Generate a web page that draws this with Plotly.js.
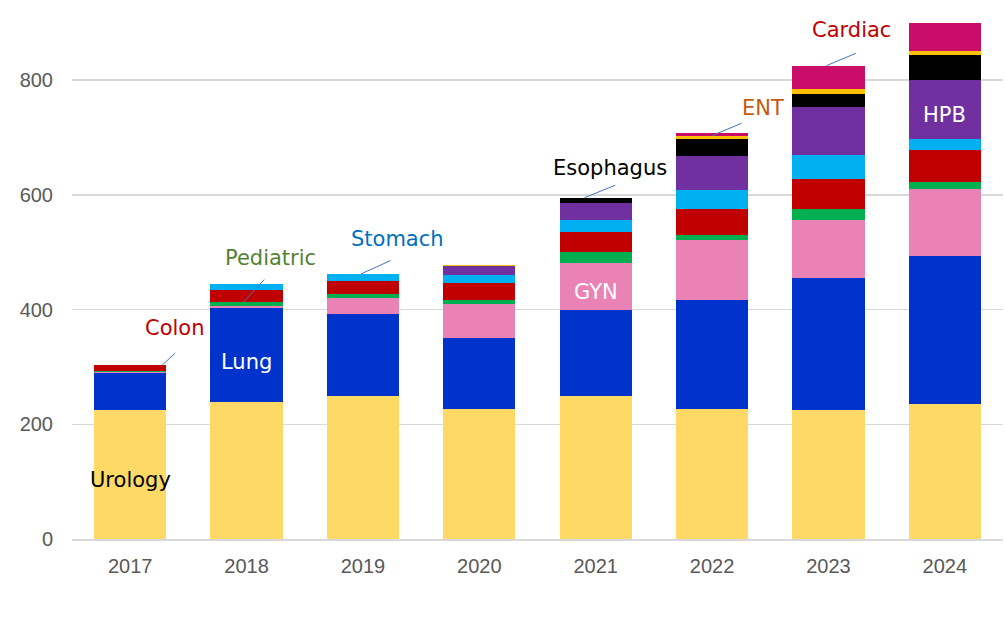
<!DOCTYPE html>
<html>
<head>
<meta charset="utf-8">
<script src="https://cdn.plot.ly/plotly-3.0.1.min.js"></script>
<style>html,body{margin:0;padding:0;background:#fff;}#chart{width:1006px;height:620px;}</style>
</head>
<body>
<div id="chart"></div>
<script>
const years = ['2017','2018','2019','2020','2021','2022','2023','2024'];
const urology   = [225, 239, 249, 227, 249, 227, 225, 235];
const lung      = [64, 164, 143, 124, 150, 189, 230, 258];
const gyn       = [2, 3, 28, 59, 82, 105, 101, 117];
const pediatric = [2, 7, 7, 7, 19, 9, 19, 12];
const colon     = [10, 21, 23, 30, 35, 45, 52, 56];
const stomach   = [0, 10, 12, 14, 21, 33, 42, 19];
const hpb       = [0, 0, 0, 14, 30, 59, 84, 103];
const esophagus = [0, 0, 0, 0, 9, 30, 23, 44];
const ent       = [0, 0, 0, 3, 0, 6, 9, 7];
const cardiac   = [0, 0, 0, 0, 0, 5, 40, 48];
const seriesNames = ['Urology','Lung','GYN','Pediatric','Colon','Stomach','HPB','Esophagus','ENT','Cardiac'];
const seriesData = [urology, lung, gyn, pediatric, colon, stomach, hpb, esophagus, ent, cardiac];
const seriesColors = ['#FFD966','#0033CC','#EB82B6','#00B050','#C00000','#00B0F0','#7030A0','#000000','#FFC000','#CB0D6A'];

const traces = seriesData.map((d, i) => ({
  type: 'bar', name: seriesNames[i], x: years, y: d,
  marker: {color: seriesColors[i], line: {width: 0}},
  hoverinfo: 'x+y+name'
}));

// cumulative sum up to and including series k for year index j
function cum(k, j) { let s = 0; for (let i = 0; i <= k; i++) s += seriesData[i][j]; return s; }
function mid(k, j) { return cum(k, j) - seriesData[k][j] / 2; }

const FONT = 'DejaVu Sans, Verdana, sans-serif';
const annotations = [];
// inside labels (x given as category index)
[[0, 0, 'Urology', '#000000', -6], [1, 1, 'Lung', '#FFFFFF', -7], [2, 4, 'GYN', '#FFFFFF', -5], [6, 7, 'HPB', '#FFFFFF', -5]]
  .forEach(([k, j, t, c, ys]) => annotations.push({
    x: j, y: mid(k, j), xref: 'x', yref: 'y', text: t, showarrow: false, yshift: ys,
    font: {family: FONT, size: 21, color: c}
  }));
// callouts: [seriesIdx, yearIdx, text, color, headXshift, ax, ay, textXshift, textYshift]
const callouts = [
  [4, 0, 'Colon', '#C00000', 32, 14, -13, 45, 37],
  [3, 1, 'Pediatric', '#548235', -3, 22, -24, 24, 44],
  [5, 2, 'Stomach', '#0070C0', -2, 31, -14, 35, 35],
  [7, 4, 'Esophagus', '#000000', -11, 32, -13, 14, 30],
  [8, 5, 'ENT', '#C55A11', 0, 31, -13, 51, 28],
  [9, 6, 'Cardiac', '#C00000', -2, 31, -13, 23, 36]
];
callouts.forEach(([k, j, t, c, hx, ax, ay, tx, ty]) => {
  const yv = cum(k, j);
  annotations.push({
    x: j, y: yv, xref: 'x', yref: 'y', text: '', showarrow: true, arrowhead: 0, arrowwidth: 1,
    arrowcolor: '#4472C4', ax: ax, ay: ay, xshift: hx, standoff: 0, startstandoff: 0
  });
  annotations.push({
    x: j, y: yv, xref: 'x', yref: 'y', text: t, showarrow: false, xshift: tx, yshift: ty,
    font: {family: FONT, size: 21, color: c}
  });
});

const layout = {
  width: 1006, height: 620,
  margin: {l: 72, r: 3, t: 10, b: 81},
  paper_bgcolor: '#FFFFFF', plot_bgcolor: '#FFFFFF',
  barmode: 'stack', bargap: 0.38,
  showlegend: false,
  xaxis: {
    type: 'category', range: [-0.5, 7.5], showgrid: false, zeroline: false,
    showline: true, linecolor: '#D9D9D9', linewidth: 1.5,
    ticks: '', ticklabelstandoff: 8,
    tickfont: {family: 'Liberation Sans Narrow, Arial Narrow, Liberation Sans, sans-serif', size: 20, color: '#595959'}
  },
  yaxis: {
    range: [0, 922], tickvals: [0, 200, 400, 600, 800],
    showgrid: true, gridcolor: '#D9D9D9', gridwidth: 1.5,
    zeroline: false, showline: false, ticks: '', ticklabelstandoff: 18,
    tickfont: {family: 'Liberation Sans, Arial, sans-serif', size: 20, color: '#595959'}
  },
  annotations: annotations
};

Plotly.newPlot('chart', traces, layout, {displayModeBar: false, staticPlot: true});
</script>
</body>
</html>
